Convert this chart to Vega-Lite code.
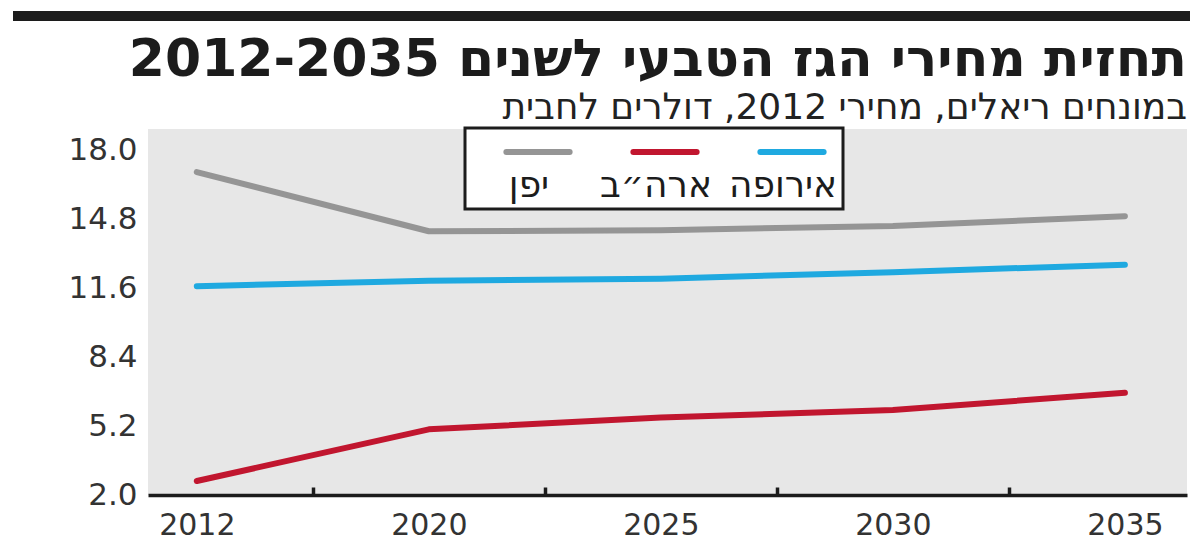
{
  "$schema": "https://vega.github.io/schema/vega-lite/v6.json",
  "background": "white",
  "padding": {"left": 13, "top": 10, "right": 0, "bottom": 0},
  "spacing": 13,
  "config": {"view": {"stroke": null}},
  "datasets": {
    "prices": [
      {"year": "2012", "region": "יפן", "price": 17.0},
      {"year": "2020", "region": "יפן", "price": 14.25},
      {"year": "2025", "region": "יפן", "price": 14.3},
      {"year": "2030", "region": "יפן", "price": 14.5},
      {"year": "2035", "region": "יפן", "price": 14.95},
      {"year": "2012", "region": "ארה״ב", "price": 2.65},
      {"year": "2020", "region": "ארה״ב", "price": 5.05},
      {"year": "2025", "region": "ארה״ב", "price": 5.6},
      {"year": "2030", "region": "ארה״ב", "price": 5.95},
      {"year": "2035", "region": "ארה״ב", "price": 6.75},
      {"year": "2012", "region": "אירופה", "price": 11.7},
      {"year": "2020", "region": "אירופה", "price": 11.95},
      {"year": "2025", "region": "אירופה", "price": 12.05},
      {"year": "2030", "region": "אירופה", "price": 12.35},
      {"year": "2035", "region": "אירופה", "price": 12.7}
    ]
  },
  "vconcat": [
    {
      "width": 1177,
      "height": 10,
      "view": {"fill": "#1c1c1c", "stroke": null},
      "data": {"values": [{"t": ""}]},
      "mark": {"type": "text"},
      "encoding": {"text": {"field": "t", "type": "nominal"}}
    },
    {
      "spacing": 0,
      "bounds": "flush",
      "hconcat": [
        {
          "width": 135,
          "height": 366,
          "data": {"name": "prices"},
          "mark": {"type": "point", "opacity": 0},
          "encoding": {
            "y": {
              "field": "price",
              "type": "quantitative",
              "scale": {"domain": [2, 19], "nice": false, "zero": false},
              "axis": {
                "orient": "right",
                "title": null,
                "values": [2, 5.2, 8.4, 11.6, 14.8, 18],
                "format": ".1f",
                "grid": false,
                "ticks": false,
                "tickSize": 0,
                "domain": false,
                "labelAlign": "right",
                "labelPadding": -11,
                "labelFont": "DejaVu Sans",
                "labelFontSize": 31,
                "labelColor": "#333333"
              }
            }
          }
        },
        {
          "width": 1039,
          "height": 366,
          "view": {"fill": "#e7e7e7", "stroke": null},
          "title": {
            "text": "תחזית מחירי הגז הטבעי לשנים 2012-2035",
            "subtitle": "במונחים ריאלים, מחירי 2012, דולרים לחבית",
            "anchor": "end",
            "font": "DejaVu Sans",
            "fontSize": 52,
            "fontWeight": "bold",
            "color": "#1c1c1c",
            "subtitleFont": "DejaVu Sans",
            "subtitleFontSize": 36,
            "subtitleColor": "#222222",
            "subtitlePadding": 4,
            "offset": 2
          },
          "data": {"name": "prices"},
          "layer": [
            {
              "mark": {"type": "line", "strokeWidth": 6, "strokeCap": "round", "strokeJoin": "round"},
              "encoding": {
                "x": {
                  "field": "year",
                  "type": "ordinal",
                  "scale": {"type": "point", "padding": 0.239, "align": 0.44},
                  "axis": {
                    "orient": "bottom",
                    "title": null,
                    "grid": false,
                    "ticks": false,
                    "tickSize": 0,
                    "domain": true,
                    "domainColor": "#1c1c1c",
                    "domainWidth": 3.5,
                    "labelAngle": 0,
                    "labelFont": "DejaVu Sans",
                    "labelFontSize": 30,
                    "labelColor": "#333333",
                    "labelPadding": 15
                  }
                },
                "y": {
                  "field": "price",
                  "type": "quantitative",
                  "scale": {"domain": [2, 19], "nice": false, "zero": false},
                  "axis": null
                },
                "color": {
                  "field": "region",
                  "type": "nominal",
                  "scale": {
                    "domain": ["יפן", "ארה״ב", "אירופה"],
                    "range": ["#959595", "#c1162f", "#1fa9e0"]
                  },
                  "legend": {
                    "orient": "none",
                    "legendX": 452,
                    "legendY": 117,
                    "direction": "horizontal",
                    "title": null,
                    "symbolType": "M-2,0H2",
                    "symbolStrokeWidth": 6,
                    "symbolSize": 1000,
                    "symbolOffset": 49,
                    "labelFont": "DejaVu Sans",
                    "labelFontSize": 36,
                    "labelColor": "#1c1c1c",
                    "labelBaseline": "top",
                    "labelAlign": "center",
                    "labelOffset": -28,
                    "labelExpr": "['', datum.label]",
                    "gridAlign": "all",
                    "columnPadding": 12,
                    "padding": 5,
                    "strokeColor": "#1c1c1c",
                    "fillColor": "white",
                    "cornerRadius": 0,
                    "encode": {
                      "legend": {"update": {"strokeWidth": {"value": 3}}},
                      "labels": {"update": {"lineHeight": {"value": 17}}},
                      "symbols": {"update": {"strokeCap": {"value": "round"}}}
                    }
                  }
                }
              }
            },
            {
              "mark": {"type": "line", "opacity": 0},
              "encoding": {
                "x": {
                  "field": "year",
                  "type": "ordinal",
                  "scale": {"type": "point", "domain": ["2012", "2020", "2025", "2030"], "padding": 0.739, "align": 0.481},
                  "axis": {
                    "orient": "bottom",
                    "title": null,
                    "grid": false,
                    "labels": false,
                    "domain": false,
                    "ticks": true,
                    "tickSize": -8,
                    "tickWidth": 3.5,
                    "tickColor": "#1c1c1c"
                  }
                },
                "y": {"field": "price", "type": "quantitative"},
                "detail": {"field": "region", "type": "nominal"}
              }
            }
          ],
          "resolve": {"scale": {"x": "independent"}, "axis": {"x": "independent"}}
        }
      ]
    }
  ]
}
